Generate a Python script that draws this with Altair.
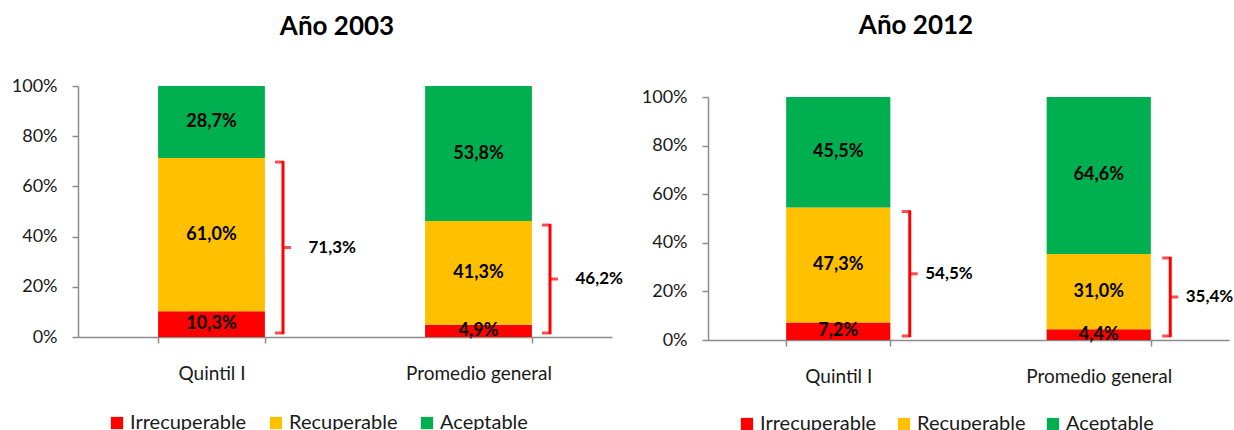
import altair as alt
import pandas as pd

categories = ["Quintil I", "Promedio general"]
levels = ["Irrecuperable", "Recuperable", "Aceptable"]
level_colors = ["#FF0000", "#FFC000", "#00B050"]

irrec_2003 = [10.3, 4.9]
recup_2003 = [61.0, 41.3]
acept_2003 = [28.7, 53.8]

irrec_2012 = [7.2, 4.4]
recup_2012 = [47.3, 31.0]
acept_2012 = [45.5, 64.6]

y_ticks = [0, 20, 40, 60, 80, 100]

FONT = "Lato"
RED = "#FF0000"
AXIS_GRAY = "#8C8C8C"
TEXT = "#1a1a1a"


def long_df(irr, rec, ace):
    rows = []
    for i, c in enumerate(categories):
        for k, (lev, vals) in enumerate(zip(levels, [irr, rec, ace])):
            rows.append({"cat": c, "level": lev, "ord": k, "value": vals[i]})
    return pd.DataFrame(rows)


def bracket_df(irr, rec):
    return pd.DataFrame({"cat": categories,
                         "total": [round(a + b, 1) for a, b in zip(irr, rec)]})


LBL = "replace(format(datum.value, '.1f'), '.', ',') + '%'"


def panel(title, irr, rec, ace, width, height, y_range, title_dx, title_offset,
          label_dx, legend_x, legend_y, col_pad):
    df = long_df(irr, rec, ace)
    bdf = bracket_df(irr, rec)

    xscale = alt.Scale(domain=categories, paddingInner=0.6, paddingOuter=0.3)
    yargs = dict(domain=[0, 100], nice=False)
    if y_range is not None:
        yargs["range"] = y_range
    yscale = alt.Scale(**yargs)

    x_enc = alt.X("cat:N", scale=xscale, sort=categories, title=None,
                  axis=alt.Axis(labelAngle=0, tickBand="extent", domainColor=AXIS_GRAY,
                                tickColor=AXIS_GRAY, tickSize=6, labelPadding=21,
                                labelFont=FONT, labelFontSize=19, labelColor=TEXT,
                                domainWidth=1.5, tickWidth=1.5))
    y_enc = alt.Y("value:Q", stack="zero", scale=yscale, title=None,
                  axis=alt.Axis(values=y_ticks, labelExpr="datum.value + '%'", grid=False,
                                domainColor=AXIS_GRAY, tickColor=AXIS_GRAY, tickSize=6,
                                labelPadding=15, labelFont=FONT, labelFontSize=18,
                                labelColor=TEXT, domainWidth=1.5, tickWidth=1.5))

    bars = alt.Chart(df).mark_bar().encode(
        x=x_enc,
        y=y_enc,
        color=alt.Color("level:N",
                        scale=alt.Scale(domain=levels, range=level_colors),
                        legend=alt.Legend(title=None, orient="none", legendX=legend_x,
                                          legendY=legend_y, direction="horizontal",
                                          columns=3, symbolType="square", symbolSize=150,
                                          symbolStrokeWidth=0, labelFont=FONT,
                                          labelFontSize=20, labelColor=TEXT,
                                          columnPadding=col_pad, labelOffset=3, padding=0)),
        order=alt.Order("ord:Q", sort="ascending"),
    )

    seg_labels = alt.Chart(df).transform_stack(
        stack="value", groupby=["cat"], sort=[alt.SortField("ord", "ascending")],
        as_=["y0", "y1"]
    ).transform_calculate(
        mid="(datum.y0 + datum.y1) / 2", lbl=LBL
    ).mark_text(font=FONT, fontSize=18, fontWeight="bold", color="black",
                baseline="middle").encode(
        x=alt.X("cat:N", scale=xscale, sort=categories, title=None),
        y=alt.Y("mid:Q", scale=yscale, title=None),
        text="lbl:N",
    )

    b = alt.Chart(bdf).transform_calculate(mid="datum.total / 2")
    bx = alt.X("cat:N", scale=xscale, sort=categories, title=None)

    vline = b.mark_rule(color=RED, strokeWidth=3, xOffset=71.5, yOffset=3,
                        y2Offset=-3).encode(
        x=bx, y=alt.Y("total:Q", scale=yscale, title=None), y2=alt.datum(0))
    top_hook = b.mark_tick(color=RED, orient="horizontal", size=9, thickness=3,
                           xOffset=68, yOffset=4).encode(
        x=bx, y=alt.Y("total:Q", scale=yscale, title=None))
    bottom_hook = b.transform_calculate(zero="0").mark_tick(
        color=RED, orient="horizontal", size=9, thickness=3, xOffset=68,
        yOffset=-4).encode(x=bx, y=alt.Y("zero:Q", scale=yscale, title=None))
    mid_tick = b.mark_tick(color=RED, orient="horizontal", size=8, thickness=3,
                           xOffset=75.5).encode(
        x=bx, y=alt.Y("mid:Q", scale=yscale, title=None))
    blabel = b.transform_calculate(lbl="replace(format(datum.total, '.1f'), '.', ',') + '%'").mark_text(
        font=FONT, fontSize=17, fontWeight="bold", color="black", align="left",
        baseline="middle", dx=label_dx).encode(
        x=bx, y=alt.Y("mid:Q", scale=yscale, title=None), text="lbl:N")

    return alt.layer(bars, seg_labels, vline, top_hook, bottom_hook, mid_tick,
                     blabel).properties(
        width=width, height=height,
        title=alt.TitleParams(title, font=FONT, fontSize=26, fontWeight="bold",
                              anchor="middle", baseline="middle", offset=title_offset,
                              dx=title_dx, color="black"),
    )


left = panel("Año 2003", irrec_2003, recup_2003, acept_2003, 534, 251, None,
             -8, 24, 97, 29, 327, 19)
right = panel("Año 2012", irrec_2012, recup_2012, acept_2012, 521, 254, [254, 11],
              -52.5, 34, 87, 29, 328, 17)

chart = alt.hconcat(left, right, spacing=96, bounds="flush").resolve_scale(
    color="independent", x="independent", y="independent"
).resolve_legend(color="independent").properties(
    padding={"left": 11, "top": 13, "right": 0, "bottom": 5}
).configure_view(strokeWidth=0)

chart.save("out.html", embed_options={"renderer": "svg", "actions": False})
